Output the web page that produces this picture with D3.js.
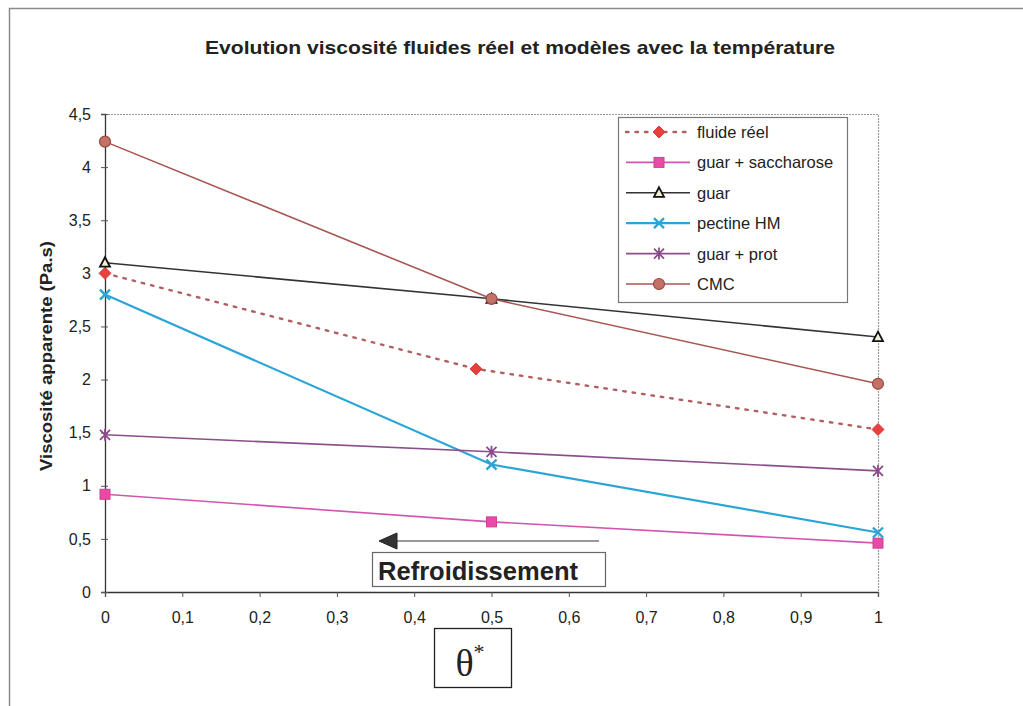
<!DOCTYPE html>
<html><head><meta charset="utf-8">
<script src="https://cdn.jsdelivr.net/npm/d3@7"></script>
<style>body{margin:0;background:#fff}svg{display:block}</style>
</head><body>
<script>
const title = "Evolution viscosité fluides réel et modèles avec la température";
const yLabel = "Viscosité apparente (Pa.s)";
const xTicks = [0,0.1,0.2,0.3,0.4,0.5,0.6,0.7,0.8,0.9,1];
const yTicks = [0,0.5,1,1.5,2,2.5,3,3.5,4,4.5];
const seriesNames = ["fluide réel","guar + saccharose","guar","pectine HM","guar + prot","CMC"];
const xFluide = [0, 0.48, 1];
const xModel = [0, 0.5, 1];
const fluideReel = [3.0, 2.1, 1.53];
const guarSaccharose = [0.92, 0.66, 0.46];
const guar = [3.1, 2.76, 2.4];
const pectineHM = [2.8, 1.2, 0.56];
const guarProt = [1.48, 1.32, 1.14];
const cmc = [4.24, 2.76, 1.96];
const arrowLabel = "Refroidissement";

const W=1023,H=706;
const svg=d3.select("body").append("svg").attr("width",W).attr("height",H);
const F="'Liberation Sans', Arial, sans-serif";
// outer frame
svg.append("path").attr("d",`M9.5,${H} L9.5,8.5 L${W},8.5`).attr("fill","none").attr("stroke","#8a8a8a").attr("stroke-width",1.5);

const x=d3.scaleLinear().domain([0,1]).range([105,878]);
const y=d3.scaleLinear().domain([0,4.5]).range([592,114]);

svg.append("text").attr("x",520).attr("y",54).attr("text-anchor","middle").attr("font-family",F)
  .attr("font-size",19).attr("font-weight","bold").attr("fill","#222")
  .attr("textLength",630).attr("lengthAdjust","spacingAndGlyphs").text(title);

// plot border top/right
svg.append("path").attr("d",`M${x(0)},${y(4.5)+0.5} L${x(1)+0.5},${y(4.5)+0.5} L${x(1)+0.5},${y(0)}`)
  .attr("fill","none").attr("stroke","#999").attr("stroke-width",1.2).attr("stroke-dasharray","2,1");

const fmt=d=>String(d).replace(".",",");
const gx=svg.append("g").attr("transform",`translate(0,${y(0)})`)
  .call(d3.axisBottom(x).tickValues(xTicks).tickSize(5).tickFormat(fmt).tickPadding(15));
const gy=svg.append("g").attr("transform",`translate(${x(0)},0)`)
  .call(d3.axisLeft(y).tickValues(yTicks).tickSize(4).tickFormat(fmt).tickPadding(10));
[gx,gy].forEach(g=>{g.selectAll("text").attr("font-family",F).attr("font-size",16).attr("fill","#222");
  g.select(".domain").attr("stroke","#333").attr("stroke-width",1.3);
  g.selectAll(".tick line").attr("stroke","#555");});
gy.selectAll(".tick line").attr("x1",3);

svg.append("text").attr("transform",`translate(52,356) rotate(-90)`).attr("text-anchor","middle")
  .attr("font-family",F).attr("font-size",16.5).attr("font-weight","bold").attr("fill","#222")
  .attr("textLength",230).attr("lengthAdjust","spacingAndGlyphs").text(yLabel);

const series=[
 {name:seriesNames[0],xs:xFluide,v:fluideReel,line:"#b06060",dash:"2.5,7",mark:"diamond",fill:"#e8403c",stroke:"#d84040",w:2.4},
 {name:seriesNames[1],xs:xModel,v:guarSaccharose,line:"#d455b0",mark:"square",fill:"#e94aa8",stroke:"#d0408f",w:1.6},
 {name:seriesNames[2],xs:xModel,v:guar,line:"#333",mark:"triangle",fill:"#f4f0d8",stroke:"#111",w:1.6},
 {name:seriesNames[3],xs:xModel,v:pectineHM,line:"#2aa5d6",mark:"x",fill:"none",stroke:"#2aa5d6",w:2.2},
 {name:seriesNames[4],xs:xModel,v:guarProt,line:"#8a4e8a",mark:"star",fill:"none",stroke:"#8a4a8c",w:1.6},
 {name:seriesNames[5],xs:xModel,v:cmc,line:"#a65652",mark:"circle",fill:"#c27266",stroke:"#9a4a44",w:1.6},
];
function marker(g,type,s){
  if(type==="diamond") g.append("path").attr("d","M0,-6 L6,0 L0,6 L-6,0 Z").attr("fill",s.fill).attr("stroke",s.stroke);
  else if(type==="square") g.append("rect").attr("x",-5).attr("y",-5).attr("width",10).attr("height",10).attr("fill",s.fill).attr("stroke",s.stroke);
  else if(type==="triangle") g.append("path").attr("d","M0,-5.5 L5,4 L-5,4 Z").attr("fill",s.fill).attr("stroke",s.stroke).attr("stroke-width",1.8);
  else if(type==="x") g.append("path").attr("d","M-5,-5 L5,5 M-5,5 L5,-5").attr("stroke",s.stroke).attr("stroke-width",2.4);
  else if(type==="star") g.append("path").attr("d","M-5,-5 L5,5 M-5,5 L5,-5 M0,-6 L0,6").attr("stroke",s.stroke).attr("stroke-width",1.8);
  else if(type==="circle") g.append("circle").attr("r",5.5).attr("fill",s.fill).attr("stroke",s.stroke).attr("stroke-width",1.2);
}
const line=d3.line().x(d=>x(d[0])).y(d=>y(d[1]));
series.forEach(s=>{
  const pts=s.xs.map((xv,i)=>[xv,s.v[i]]);
  svg.append("path").attr("d",line(pts)).attr("fill","none").attr("stroke",s.line).attr("stroke-width",s.w)
    .attr("stroke-dasharray",s.dash||null).attr("stroke-linecap",s.dash?"round":null);
  pts.forEach(p=>marker(svg.append("g").attr("transform",`translate(${x(p[0])},${y(p[1])})`),s.mark,s));
});

// legend
const lg=svg.append("g");
lg.append("rect").attr("x",618.5).attr("y",117.5).attr("width",229).attr("height",185).attr("fill","#fff").attr("stroke","#777").attr("stroke-width",1.2);
series.forEach((s,i)=>{
  const ly=132+i*30.4;
  lg.append("line").attr("x1",626).attr("x2",690).attr("y1",ly).attr("y2",ly).attr("stroke",s.line).attr("stroke-width",s.w).attr("stroke-dasharray",s.dash||null).attr("stroke-linecap",s.dash?"round":null);
  marker(lg.append("g").attr("transform",`translate(659,${ly})`),s.mark,s);
  lg.append("text").attr("x",697).attr("y",ly+6).attr("font-family",F).attr("font-size",16.5).attr("fill","#222").text(s.name);
});

// refroidissement arrow
svg.append("line").attr("x1",396).attr("x2",599).attr("y1",541).attr("y2",541).attr("stroke","#777").attr("stroke-width",1.5);
svg.append("path").attr("d","M379,541 L397,533 L397,549 Z").attr("fill","#333").attr("stroke","#222");
svg.append("rect").attr("x",372.5).attr("y",552.5).attr("width",233).attr("height",34).attr("fill","#fff").attr("stroke","#666").attr("stroke-width",1.2);
svg.append("text").attr("x",378).attr("y",580).attr("font-family",F).attr("font-size",25).attr("font-weight","bold").attr("fill","#222")
  .attr("textLength",200).attr("lengthAdjust","spacingAndGlyphs").text(arrowLabel);

// theta box
svg.append("rect").attr("x",434.5).attr("y",628.5).attr("width",77).attr("height",59).attr("fill","#fff").attr("stroke","#222").attr("stroke-width",1.3);
const th=svg.append("text").attr("x",470).attr("y",676).attr("text-anchor","middle").attr("font-family","'Liberation Serif','DejaVu Serif',serif").attr("font-size",38).attr("fill","#222");
th.append("tspan").text("θ");
th.append("tspan").attr("dy",-17).attr("font-size",22).text("*");
</script>
</body></html>
